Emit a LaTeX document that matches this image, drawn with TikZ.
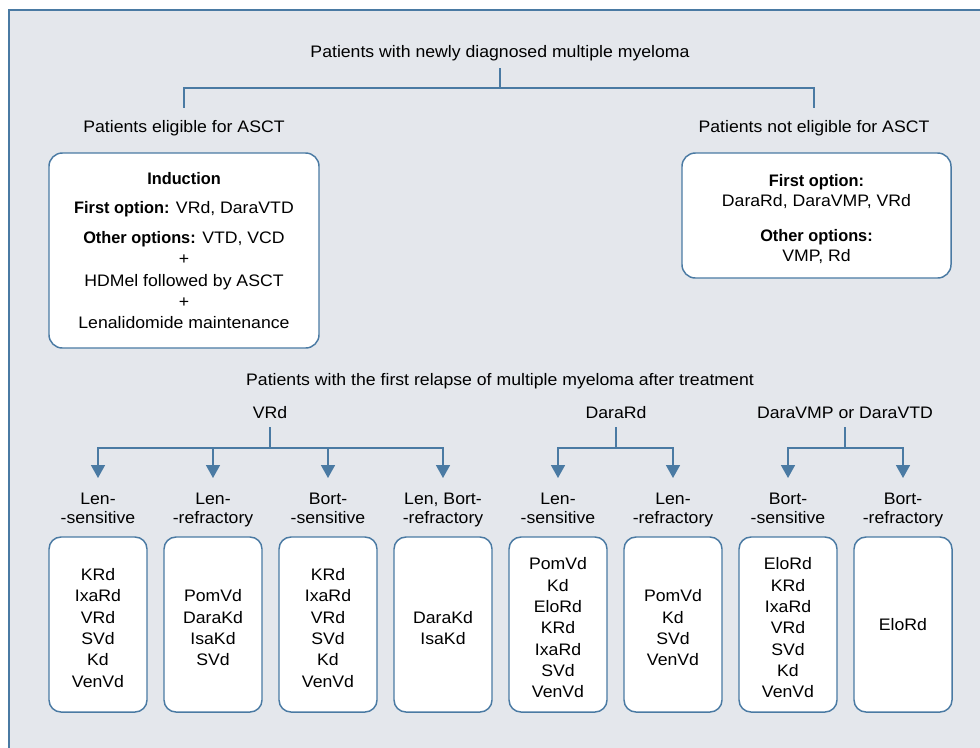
\documentclass[tikz,border=0pt]{standalone}
\usepackage{fontspec}
\setmainfont[FakeStretch=1.06, BoldFeatures={FakeStretch=0.98}]{Liberation Sans}
\usetikzlibrary{arrows.meta,calc}
\definecolor{bg}{HTML}{E4E7EC}
\definecolor{ln}{HTML}{4A7AA3}
\newcommand\tallstrut{\rule{0pt}{14pt}}
\begin{document}
\begin{tikzpicture}[x=0.75pt,y=-0.75pt,
  every node/.style={font=\fontsize{12.5}{16}\selectfont, text=black},
  lbl/.style={inner sep=0pt, align=center, anchor=base},
  sublbl/.style={inner sep=0pt, align=center, font=\fontsize{12.5}{14.5}\selectfont},
  topbox/.style={draw=ln, line width=1.1pt, fill=white, rounded corners=10pt, align=center, inner sep=0pt},
  drugbox/.style={draw=ln, line width=1.1pt, fill=white, rounded corners=9pt, align=center, inner sep=0pt, minimum width=73.5pt, minimum height=131.25pt},
  conn/.style={draw=ln, line width=1.2pt},
  arr/.style={draw=ln, line width=1.2pt, -{Triangle[width=10.5pt,length=9.75pt]}}]
\useasboundingbox (0,0) rectangle (980,747);
\clip (0,0) rectangle (980,747);
\fill[bg] (9,10) rectangle (1000,770);
\draw[ln, line width=2pt] (9,770) -- (9,10) -- (1000,10);

% top level
\node[lbl] (title) at (500,57) {Patients with newly diagnosed multiple myeloma};
\node[lbl] (elig) at (184,132) {Patients eligible for ASCT};
\node[lbl] (nelig) at (814,132) {Patients not eligible for ASCT};
\coordinate (j0) at (500,88);
\draw[conn] ($(title.base)+(0,11)$) -- (j0);
\draw[conn] (j0) -| ($(elig.base)+(0,-24)$);
\draw[conn] (j0) -| ($(nelig.base)+(0,-24)$);

\node[topbox, minimum width=202.5pt, minimum height=146.25pt] (eligbox) at (184,250.5)
  {\textbf{Induction}\\[6pt]
   \textbf{First option:} VRd, DaraVTD\\[6.5pt]
   \textbf{Other options:} VTD, VCD\\
   +\\
   HDMel followed by ASCT\\
   +\\
   Lenalidomide maintenance};
\node[topbox, minimum width=201.75pt, minimum height=93.75pt] (neligbox) at (816.5,215.5)
  {\tallstrut\textbf{First option:}\\[-1pt]
   DaraRd, DaraVMP, VRd\\[10pt]
   \textbf{Other options:}\\[-1pt]
   VMP, Rd};

% relapse
\node[lbl] (relapse) at (500,385) {Patients with the first relapse of multiple myeloma after treatment};
\node[lbl] (vrd) at (270,418) {VRd};
\node[lbl] (darard) at (616,418) {DaraRd};
\node[lbl] (daravmp) at (845,418) {DaraVMP or DaraVTD};

\node[sublbl] (l1) at (98,510) {\strut Len-\\-sensitive\strut};
\node[sublbl] (l2) at (213,510) {\strut Len-\\-refractory\strut};
\node[sublbl] (l3) at (328,510) {\strut Bort-\\-sensitive\strut};
\node[sublbl] (l4) at (443,510) {\strut Len, Bort-\\-refractory\strut};
\node[sublbl] (l5) at (558,510) {\strut Len-\\-sensitive\strut};
\node[sublbl] (l6) at (673,510) {\strut Len-\\-refractory\strut};
\node[sublbl] (l7) at (788,510) {\strut Bort-\\-sensitive\strut};
\node[sublbl] (l8) at (903,510) {\strut Bort-\\-refractory\strut};

\coordinate (jv) at (270,448);
\coordinate (jd) at (616,448);
\coordinate (jm) at (845,448);
\draw[conn] ($(vrd.base)+(0,9)$) -- (jv);
\draw[conn] ($(darard.base)+(0,9)$) -- (jd);
\draw[conn] ($(daravmp.base)+(0,9)$) -- (jm);
\foreach \l in {l1,l2,l3,l4} \draw[arr] (jv) -| ($(\l)+(0,-32)$);
\foreach \l in {l5,l6} \draw[arr] (jd) -| ($(\l)+(0,-32)$);
\foreach \l in {l7,l8} \draw[arr] (jm) -| ($(\l)+(0,-32)$);

\node[drugbox] (b1) at (98,624.5) {\tallstrut KRd\\IxaRd\\VRd\\SVd\\Kd\\VenVd};
\node[drugbox] (b2) at (213,624.5) {\tallstrut PomVd\\DaraKd\\IsaKd\\SVd};
\node[drugbox] (b3) at (328,624.5) {\tallstrut KRd\\IxaRd\\VRd\\SVd\\Kd\\VenVd};
\node[drugbox] (b4) at (443,624.5) {\tallstrut DaraKd\\IsaKd};
\node[drugbox] (b5) at (558,624.5) {\tallstrut PomVd\\Kd\\EloRd\\KRd\\IxaRd\\SVd\\VenVd};
\node[drugbox] (b6) at (673,624.5) {\tallstrut PomVd\\Kd\\SVd\\VenVd};
\node[drugbox] (b7) at (788,624.5) {\tallstrut EloRd\\KRd\\IxaRd\\VRd\\SVd\\Kd\\VenVd};
\node[drugbox] (b8) at (903,624.5) {EloRd};
\end{tikzpicture}
\end{document}
